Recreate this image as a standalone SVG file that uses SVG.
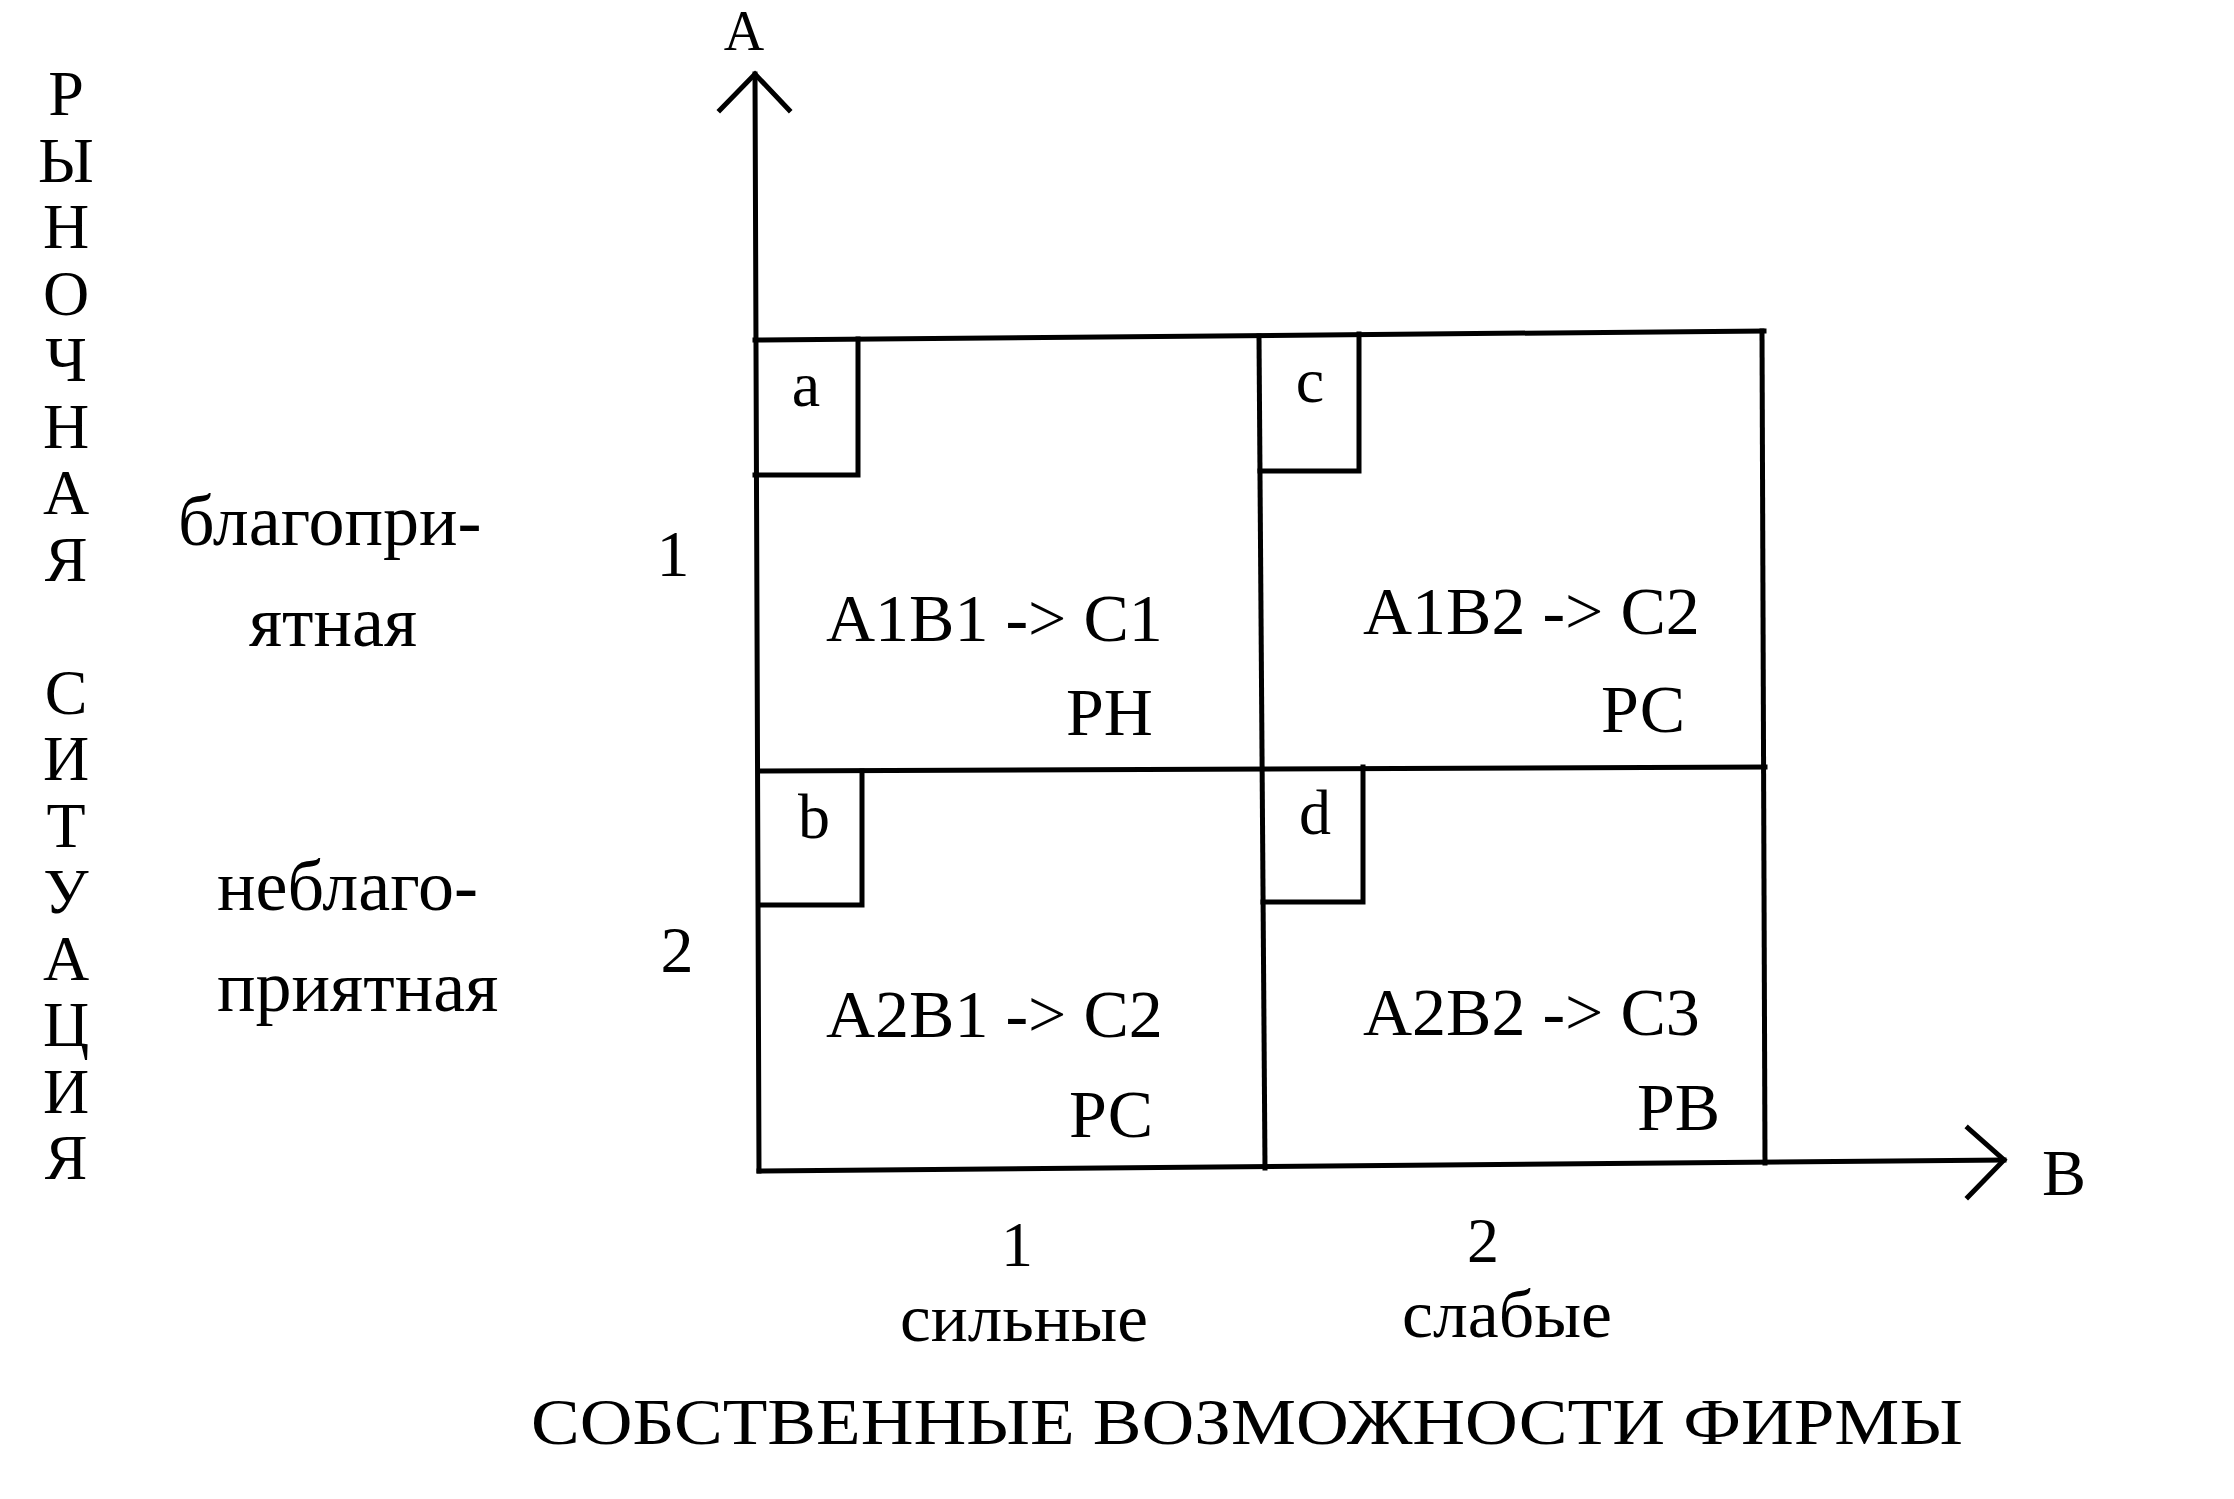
<svg xmlns="http://www.w3.org/2000/svg" width="2234" height="1499" viewBox="0 0 2234 1499">
<style>
text{font-family:"Liberation Serif","Times New Roman",serif;fill:#000}
.cell{font-size:68px}
.lbl{font-size:66px}
.num{font-size:64px}
.side{font-size:72px}
.bot{font-size:68px}
.tag{font-size:64px}
.col{font-size:64px;text-anchor:middle}
.mid{text-anchor:middle}
.ln{stroke:#000;stroke-width:5;fill:none;stroke-linecap:square}
</style>
<rect width="2234" height="1499" fill="#fff"/>
<g id="axes" class="ln">
<polyline points="720,110 755,74 789,110"/>
<line x1="755" y1="74" x2="759" y2="1171"/>
<line x1="759" y1="1171" x2="2004" y2="1160"/>
<polyline points="1968,1128 2004,1160 1968,1197"/>
</g>
<g id="grid" class="ln">
<line x1="755" y1="340" x2="1764" y2="331"/>
<line x1="759" y1="771" x2="1765" y2="767"/>
<line x1="1259" y1="336" x2="1265" y2="1168"/>
<line x1="1762" y1="331" x2="1765" y2="1163"/>
</g>
<g id="cell-a">
<polyline class="ln" points="755,475 858,475 858,339"/>
<text class="tag mid" x="806" y="406">a</text>
<text class="cell" x="826" y="641">A1B1 -&gt; C1</text>
<text class="cell" x="1066" y="735">РН</text>
</g>
<g id="cell-c">
<polyline class="ln" points="1260,471 1359,471 1359,334"/>
<text class="tag mid" x="1310" y="402">c</text>
<text class="cell" x="1363" y="634">A1B2 -&gt; C2</text>
<text class="cell" x="1601" y="732">РС</text>
</g>
<g id="cell-b">
<polyline class="ln" points="759,905 862,905 862,771"/>
<text class="tag mid" x="814" y="838">b</text>
<text class="cell" x="826" y="1037">A2B1 -&gt; C2</text>
<text class="cell" x="1069" y="1137">РС</text>
</g>
<g id="cell-d">
<polyline class="ln" points="1263,902 1363,902 1363,767"/>
<text class="tag mid" x="1315" y="834">d</text>
<text class="cell" x="1363" y="1035">A2B2 -&gt; C3</text>
<text class="cell" x="1637" y="1130">РВ</text>
</g>
<g id="axis-labels">
<text class="mid" style="font-size:56px" x="744" y="50">A</text>
<text class="lbl" x="2042" y="1195">B</text>
</g>
<g id="row-labels">
<text class="side" x="178" y="545">благопри-</text>
<text class="side" x="249" y="646">ятная</text>
<text class="lbl mid" x="673" y="576">1</text>
<text class="side" x="217" y="910">неблаго-</text>
<text class="side" x="217" y="1011">приятная</text>
<text class="lbl mid" x="677" y="972">2</text>
</g>
<g id="col-labels">
<text class="num mid" x="1017" y="1266">1</text>
<text class="bot mid" x="1024" y="1341" textLength="248" lengthAdjust="spacingAndGlyphs">сильные</text>
<text class="num mid" x="1483" y="1262">2</text>
<text class="bot mid" x="1507" y="1337" textLength="210" lengthAdjust="spacingAndGlyphs">слабые</text>
<text class="lbl" x="531" y="1444" textLength="1432" lengthAdjust="spacingAndGlyphs">СОБСТВЕННЫЕ ВОЗМОЖНОСТИ ФИРМЫ</text>
</g>
<g id="vertical-title">
<text class="col" x="66" y="115">Р<tspan x="66" dy="66.5">Ы</tspan><tspan x="66" dy="66.5">Н</tspan><tspan x="66" dy="66.5">О</tspan><tspan x="66" dy="66.5">Ч</tspan><tspan x="66" dy="66.5">Н</tspan><tspan x="66" dy="66.5">А</tspan><tspan x="66" dy="66.5">Я</tspan><tspan x="66" dy="133">С</tspan><tspan x="66" dy="66.5">И</tspan><tspan x="66" dy="66.5">Т</tspan><tspan x="66" dy="66.5">У</tspan><tspan x="66" dy="66.5">А</tspan><tspan x="66" dy="66.5">Ц</tspan><tspan x="66" dy="66.5">И</tspan><tspan x="66" dy="66.5">Я</tspan></text>
</g>
</svg>
